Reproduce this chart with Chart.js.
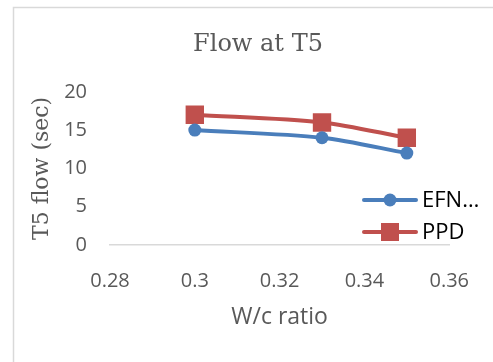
<!DOCTYPE html>
<html>
<head>
<meta charset="utf-8">
<script src="https://cdn.jsdelivr.net/npm/chart.js@4"></script>
<style>
  html, body { margin: 0; padding: 0; background: #fff; }
  #wrap { width: 493px; height: 362px; position: relative; }
</style>
</head>
<body>
<div id="wrap"><canvas id="flowChart" width="493" height="362"></canvas></div>
<script>
const wcRatio = [0.30, 0.33, 0.35];
const efnFlow = [15, 14, 12];
const ppdFlow = [17, 16, 14];
const seriesNames = ['EFN…', 'PPD'];
const xTicks = [0.28, 0.30, 0.32, 0.34, 0.36];
const yTicks = [0, 5, 10, 15, 20];

const blue = '#4a7ebb';
const red = '#c0504d';
const grey = '#595959';

const toPoints = (ys) => wcRatio.map((x, i) => ({ x: x, y: ys[i] }));

// chart frame + legend drawn on top
const framePlugin = {
  id: 'frame',
  beforeDraw(chart) {
    const c = chart.ctx;
    c.save();
    c.fillStyle = '#fff';
    c.fillRect(0, 0, chart.width, chart.height);
    c.strokeStyle = '#d9d9d9';
    c.lineWidth = 1.5;
    c.beginPath();
    c.moveTo(13.5, chart.height);
    c.lineTo(13.5, 7.5);
    c.lineTo(chart.width, 7.5);
    c.stroke();
    c.restore();
  },
  afterDraw(chart) {
    const c = chart.ctx;
    const rows = [200, 232];
    c.save();
    chart.data.datasets.forEach((ds, i) => {
      const y = rows[i];
      c.strokeStyle = ds.borderColor;
      c.lineWidth = 4;
      c.lineCap = 'round';
      c.beginPath();
      c.moveTo(364, y);
      c.lineTo(416, y);
      c.stroke();
      c.fillStyle = ds.backgroundColor;
      if (ds.pointStyle === 'rect') {
        c.fillRect(390 - 9, y - 9, 18, 18);
      } else {
        c.beginPath();
        c.arc(390, y, 6.5, 0, Math.PI * 2);
        c.fill();
      }
      c.fillStyle = '#000';
      c.font = '22px "Open Sans"';
      c.textBaseline = 'middle';
      c.textAlign = 'left';
      c.fillText(ds.label, 422, y + 1);
    });
    c.restore();
  }
};

const ctx = document.getElementById('flowChart').getContext('2d');

const flowChart = new Chart(ctx, {
  type: 'line',
  data: {
    datasets: [
      {
        label: seriesNames[0],
        data: toPoints(efnFlow),
        borderColor: blue,
        backgroundColor: blue,
        borderWidth: 4,
        tension: 0.3,
        pointStyle: 'circle',
        pointRadius: 6.5,
        pointBorderWidth: 0
      },
      {
        label: seriesNames[1],
        data: toPoints(ppdFlow),
        borderColor: red,
        backgroundColor: red,
        borderWidth: 4,
        tension: 0.3,
        pointStyle: 'rect',
        pointRadius: 13,
        pointBorderWidth: 0
      }
    ]
  },
  plugins: [framePlugin],
  options: {
    responsive: false,
    animation: false,
    layout: { padding: { left: 54, right: 31, top: 0, bottom: 0 } },
    plugins: {
      legend: { display: false },
      tooltip: { enabled: false },
      title: {
        display: true,
        text: 'Flow at T5',
        color: grey,
        font: { family: '"DejaVu Serif"', size: 24, weight: 'normal' },
        padding: { top: 30, bottom: 33 }
      }
    },
    scales: {
      x: {
        type: 'linear',
        min: 0.28,
        max: 0.36,
        afterBuildTicks: (scale) => { scale.ticks = xTicks.map(v => ({ value: v })); },
        afterFit: (scale) => { scale.height = 117; },
        grid: { display: false, drawTicks: false },
        border: { display: true, color: '#d9d9d9', width: 1.5 },
        ticks: {
          color: grey,
          padding: 24,
          font: { family: '"Open Sans"', size: 20 },
          callback: (v) => String(+v.toFixed(2))
        },
        title: {
          display: true,
          text: 'W/c ratio',
          color: grey,
          font: { family: '"Open Sans"', size: 23 },
          padding: { top: 0, bottom: 31 }
        }
      },
      y: {
        min: 0,
        max: 20,
        afterBuildTicks: (scale) => { scale.ticks = yTicks.map(v => ({ value: v })); },
        afterFit: (scale) => { scale.width = 56; },
        grid: { display: false, drawTicks: false },
        border: { display: false },
        ticks: {
          color: grey,
          padding: 23,
          font: { family: '"Open Sans"', size: 20 }
        },
        title: {
          display: true,
          text: 'T5 flow (sec)',
          color: grey,
          font: { family: '"DejaVu Serif"', size: 22 },
          padding: { top: -25, bottom: 0 }
        }
      }
    }
  }
});
</script>
</body>
</html>
